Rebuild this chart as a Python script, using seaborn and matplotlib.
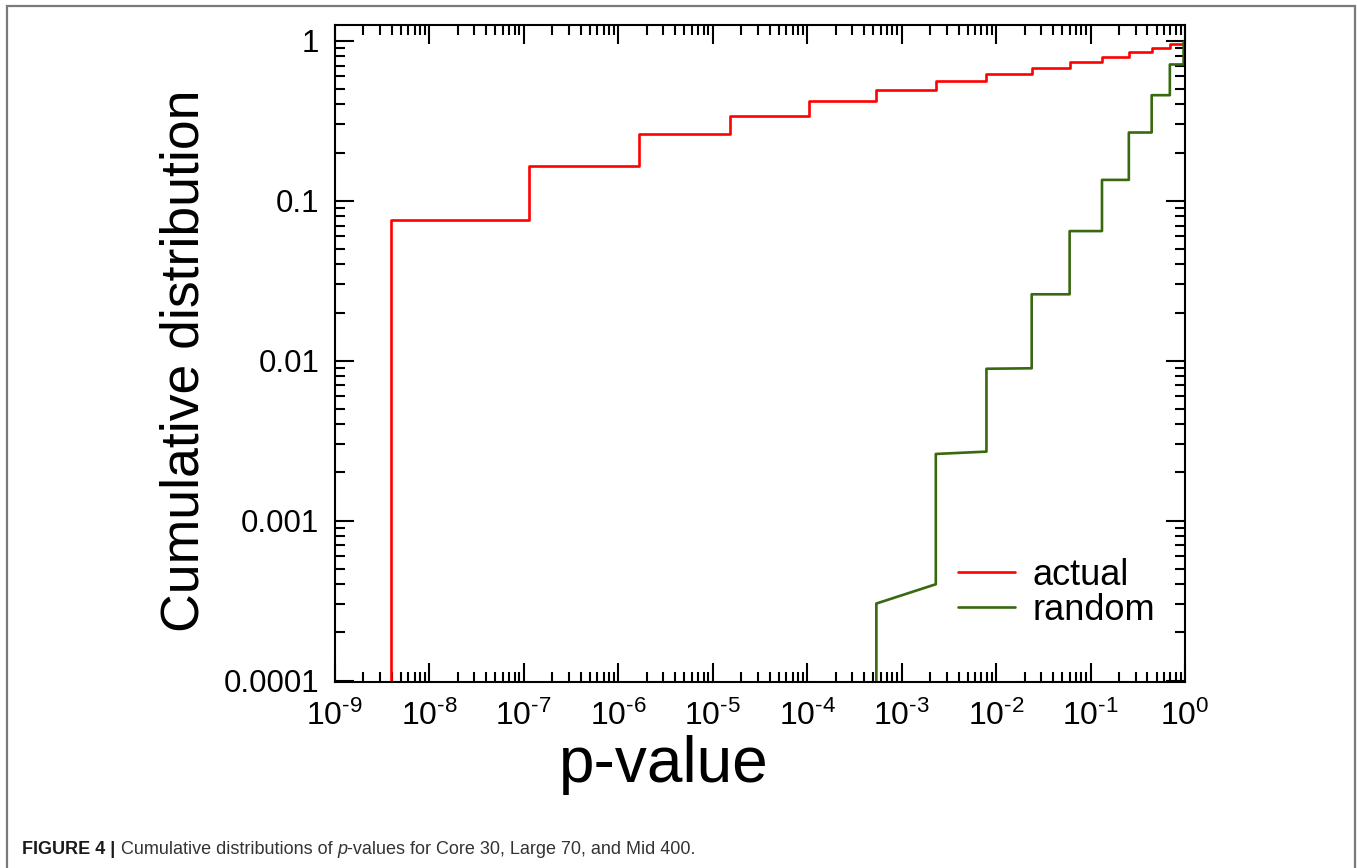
import matplotlib
matplotlib.use("Agg")
import matplotlib.pyplot as plt
from matplotlib.patches import Rectangle
from matplotlib.ticker import LogLocator, FixedLocator, FixedFormatter, NullFormatter
import seaborn as sns
import pandas as pd

# p-value bin edges where the cumulative curves step up
actual_edges = [3.9e-9, 1.15e-7, 1.66e-6, 1.54e-5, 1.05e-4, 5.4e-4, 2.3e-3,
                7.9e-3, 0.0238, 0.060, 0.132, 0.254, 0.443, 0.69]
# cumulative fraction of actual p-values reached at each edge
actual_cdf = [0.076, 0.164, 0.26, 0.339, 0.421, 0.491, 0.56,
              0.618, 0.675, 0.735, 0.792, 0.845, 0.897, 0.95]

random_edges = [5.4e-4, 2.3e-3, 7.9e-3, 0.0238, 0.060, 0.132, 0.254, 0.443, 0.69, 0.965]
# level of the random curve just after each edge, and just before the next one
random_cdf_start = [3.03e-4, 2.61e-3, 8.9e-3, 0.026, 0.0646, 0.135, 0.267, 0.457, 0.711, 0.985]
random_cdf_end = [4.0e-4, 2.70e-3, 8.96e-3, 0.026, 0.0646, 0.135, 0.267, 0.457, 0.711, 0.985]

HY = "\u2010"
xtick_values = [1e-9, 1e-8, 1e-7, 1e-6, 1e-5, 1e-4, 1e-3, 1e-2, 1e-1, 1e0]
xtick_labels = [f"$10^{{{HY}{k}}}$" for k in (9, 8, 7, 6, 5, 4, 3, 2, 1)] + [r"$10^{0}$"]
ytick_values = [1e-4, 1e-3, 1e-2, 1e-1, 1.0]
ytick_labels = ["0.0001", "0.001", "0.01", "0.1", "1"]

FLOOR = 1e-6  # below the visible range, so the first riser starts off the axis


def staircase(edges, start, end):
    """Polyline: jump at each edge, then run to the next edge."""
    xs, ys = [edges[0]], [FLOOR]
    for i, x in enumerate(edges):
        xs.append(x)
        ys.append(start[i])
        nxt = edges[i + 1] if i + 1 < len(edges) else 1.0
        xs.append(nxt)
        ys.append(end[i])
    return pd.DataFrame({"p": xs, "cdf": ys})


sns.set_style("ticks")
plt.rcParams["font.family"] = ["Liberation Sans", "DejaVu Sans"]
plt.rcParams["mathtext.fontset"] = "custom"
plt.rcParams["mathtext.rm"] = "Liberation Sans"
plt.rcParams["mathtext.it"] = "Liberation Sans:italic"
plt.rcParams["mathtext.default"] = "regular"
for key in ("text.color", "axes.labelcolor", "xtick.color", "ytick.color"):
    plt.rcParams[key] = "black"

fig = plt.figure(figsize=(13.57, 8.68), dpi=100)
ax = fig.add_axes([0.2467, 0.2146, 0.6266, 0.7569])

actual_df = staircase(actual_edges, actual_cdf, actual_cdf)
random_df = staircase(random_edges, random_cdf_start, random_cdf_end)

sns.lineplot(data=actual_df, x="p", y="cdf", sort=False, estimator=None,
             color="#ff0000", linewidth=1.9, label="actual", ax=ax)
sns.lineplot(data=random_df, x="p", y="cdf", sort=False, estimator=None,
             color="#38680f", linewidth=1.9, label="random", ax=ax)

ax.set_xscale("log")
ax.set_yscale("log")
ax.set_xlim(1e-9, 1.0)
ax.set_ylim(0.983e-4, 1.26)

ax.xaxis.set_major_locator(FixedLocator(xtick_values))
ax.xaxis.set_major_formatter(FixedFormatter(xtick_labels))
ax.xaxis.set_minor_locator(LogLocator(base=10, subs=range(2, 10), numticks=50))
ax.xaxis.set_minor_formatter(NullFormatter())
ax.yaxis.set_major_locator(FixedLocator(ytick_values))
ax.yaxis.set_major_formatter(FixedFormatter(ytick_labels))
ax.yaxis.set_minor_locator(LogLocator(base=10, subs=range(2, 10), numticks=50))
ax.yaxis.set_minor_formatter(NullFormatter())

ax.tick_params(which="both", direction="in", top=True, right=True,
               width=1.5, color="black")
ax.tick_params(which="major", length=13.5)
ax.tick_params(which="minor", length=7)
ax.tick_params(axis="x", which="major", labelsize=23, pad=14)
ax.tick_params(axis="y", which="major", labelsize=22.5, pad=11)
for s in ax.spines.values():
    s.set_linewidth(1.5)
    s.set_color("black")

ax.set_xlabel("p-value", fontsize=46, va="center")
ax.xaxis.set_label_coords(0.387, -0.127)
ax.set_ylabel("Cumulative distribution", fontsize=38.5, va="center")
ax.yaxis.set_label_coords(-0.177, 0.488)

ax.legend(loc="center left", bbox_to_anchor=(0.733, 0.135), frameon=False,
          fontsize=26, handlelength=1.58, handletextpad=0.47, labelspacing=0.0,
          borderpad=0, borderaxespad=0)

# page frame around the figure panel
fig.patches.append(Rectangle((7 / 1357, -0.1), 1348 / 1357, 1.1 - 6 / 868,
                             transform=fig.transFigure, fill=False,
                             edgecolor="#7a7a7a", linewidth=1.6, zorder=0))

# caption: bold figure tag followed by the description
CAP_Y = 1 - 854 / 868
CAP_SIZE = 13
fig.canvas.draw()
r = fig.canvas.get_renderer()
x_next = 22.5 / 1357
pieces = [("FIGURE 4 |", "normal", "bold", "#1a1a1a"),
          (" Cumulative distributions of ", "normal", "normal", "#333333"),
          ("p", "italic", "normal", "#333333"),
          ("-values for Core 30, Large 70, and Mid 400.", "normal", "normal", "#333333")]
for txt, style, weight, col in pieces:
    t = fig.text(x_next, CAP_Y, txt, fontsize=CAP_SIZE, style=style, fontweight=weight,
                 color=col, va="baseline", ha="left")
    bb = t.get_window_extent(r)
    x_next = bb.x1 / fig.bbox.width

fig.savefig("out.png", dpi=100)
